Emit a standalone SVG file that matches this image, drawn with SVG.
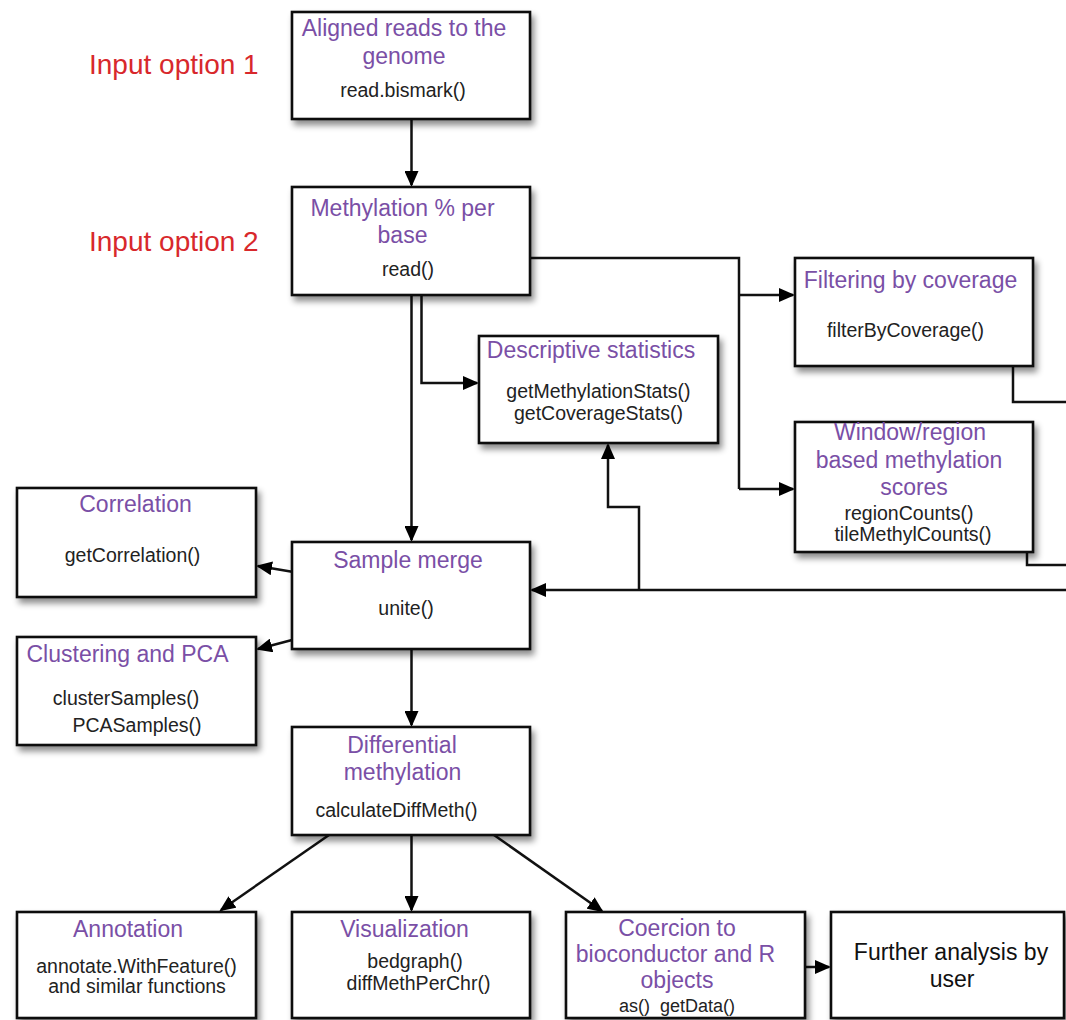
<svg xmlns="http://www.w3.org/2000/svg" width="1066" height="1020" viewBox="0 0 1066 1020">
<defs>
<filter id="sh" x="-10%" y="-10%" width="130%" height="140%">
<feDropShadow dx="3" dy="5" stdDeviation="3" flood-color="#000" flood-opacity="0.45"/>
</filter>
<marker id="ah" markerUnits="userSpaceOnUse" markerWidth="17" markerHeight="14" refX="14" refY="7" orient="auto">
<path d="M0,0 L16,7 L0,14 z" fill="#000"/>
</marker>
<style>
.box{fill:#fff;stroke:#111;stroke-width:2.6;filter:url(#sh)}
.t{font-family:"Liberation Sans",Arial,Helvetica,sans-serif;font-size:23px;fill:#7a4fa6;text-anchor:middle}
.c{font-family:"Liberation Sans",Arial,Helvetica,sans-serif;font-size:19.5px;fill:#222;text-anchor:middle}
.in{font-family:"Liberation Sans",Arial,Helvetica,sans-serif;font-size:28px;fill:#d8282c}
.f{font-family:"Liberation Sans",Arial,Helvetica,sans-serif;font-size:23px;fill:#111;text-anchor:middle}
.ln{fill:none;stroke:#111;stroke-width:2.5}
.ar{fill:none;stroke:#111;stroke-width:2.5;marker-end:url(#ah)}
</style>
</defs>
<rect width="1066" height="1020" fill="#fff"/>

<g id="labels">
<text class="in" x="89" y="74">Input option 1</text>
<text class="in" x="89" y="251">Input option 2</text>
</g>

<g id="connectors">
<path class="ar" d="M411.5,119 V185"/>
<path class="ar" d="M411.5,295 V540"/>
<path class="ar" d="M421.5,295 V383 H477"/>
<path class="ln" d="M530,258 H739 V489"/>
<path class="ar" d="M739,295 H793"/>
<path class="ar" d="M739,489 H793"/>
<path class="ln" d="M1013,366 V402 H1070"/>
<path class="ln" d="M1027,552 V565 H1070"/>
<path class="ar" d="M1070,590 H532"/>
<path class="ar" d="M639,590 V507 H608 V445"/>
<path class="ar" d="M292,571.7 L258,566"/>
<path class="ar" d="M292,640 L258,649"/>
<path class="ar" d="M411.5,649 V725"/>
<path class="ar" d="M329,835 L221,910"/>
<path class="ar" d="M411.5,835 V910"/>
<path class="ar" d="M494,835 L602,911"/>
<path class="ar" d="M805,967 H829"/>
</g>

<g id="aligned">
<rect class="box" x="292" y="12" width="238" height="107"/>
<text class="t" x="404" y="36">Aligned reads to the</text>
<text class="t" x="404" y="64">genome</text>
<text class="c" x="403" y="97">read.bismark()</text>
</g>

<g id="methylation">
<rect class="box" x="292" y="187" width="238" height="108"/>
<text class="t" x="402.5" y="216">Methylation % per</text>
<text class="t" x="402.5" y="243">base</text>
<text class="c" x="408" y="276">read()</text>
</g>

<g id="descriptive">
<rect class="box" x="479" y="336" width="239" height="107"/>
<text class="t" x="591" y="358">Descriptive statistics</text>
<text class="c" x="598.5" y="398">getMethylationStats()</text>
<text class="c" x="598.5" y="420">getCoverageStats()</text>
</g>

<g id="filtering">
<rect class="box" x="795" y="258" width="238" height="108"/>
<text class="t" x="910.5" y="288">Filtering by coverage</text>
<text class="c" x="905.5" y="337">filterByCoverage()</text>
</g>

<g id="window">
<rect class="box" x="795" y="422" width="238" height="130"/>
<text class="t" x="910" y="440">Window/region</text>
<text class="t" x="909" y="468">based methylation</text>
<text class="t" x="914" y="495">scores</text>
<text class="c" x="909" y="520">regionCounts()</text>
<text class="c" x="913" y="541">tileMethylCounts()</text>
</g>

<g id="correlation">
<rect class="box" x="17" y="488" width="239" height="109"/>
<text class="t" x="135.5" y="512">Correlation</text>
<text class="c" x="132.5" y="562">getCorrelation()</text>
</g>

<g id="samplemerge">
<rect class="box" x="292" y="542" width="238" height="107"/>
<text class="t" x="408" y="568">Sample merge</text>
<text class="c" x="406" y="615">unite()</text>
</g>

<g id="clustering">
<rect class="box" x="17" y="637" width="239" height="108"/>
<text class="t" x="127.5" y="662">Clustering and PCA</text>
<text class="c" x="126" y="705">clusterSamples()</text>
<text class="c" x="137" y="732">PCASamples()</text>
</g>

<g id="differential">
<rect class="box" x="292" y="727" width="238" height="108"/>
<text class="t" x="402" y="753">Differential</text>
<text class="t" x="402.5" y="780">methylation</text>
<text class="c" x="396.5" y="817">calculateDiffMeth()</text>
</g>

<g id="annotation">
<rect class="box" x="17" y="912" width="239" height="106"/>
<text class="t" x="128" y="937">Annotation</text>
<text class="c" x="136.5" y="973">annotate.WithFeature()</text>
<text class="c" x="137" y="993">and similar functions</text>
</g>

<g id="visualization">
<rect class="box" x="292" y="912" width="238" height="106"/>
<text class="t" x="404.5" y="937">Visualization</text>
<text class="c" x="415" y="968">bedgraph()</text>
<text class="c" x="418.5" y="990">diffMethPerChr()</text>
</g>

<g id="coercion">
<rect class="box" x="566" y="912" width="239" height="106"/>
<text class="t" x="677" y="936">Coercion to</text>
<text class="t" x="675.5" y="962">bioconductor and R</text>
<text class="t" x="677" y="988">objects</text>
<text class="c" x="677" y="1012" style="font-size:18px" xml:space="preserve">as()  getData()</text>
</g>

<g id="further">
<rect class="box" x="831" y="912" width="233" height="106"/>
<text class="f" x="951" y="960">Further analysis by</text>
<text class="f" x="952" y="987">user</text>
</g>
</svg>
